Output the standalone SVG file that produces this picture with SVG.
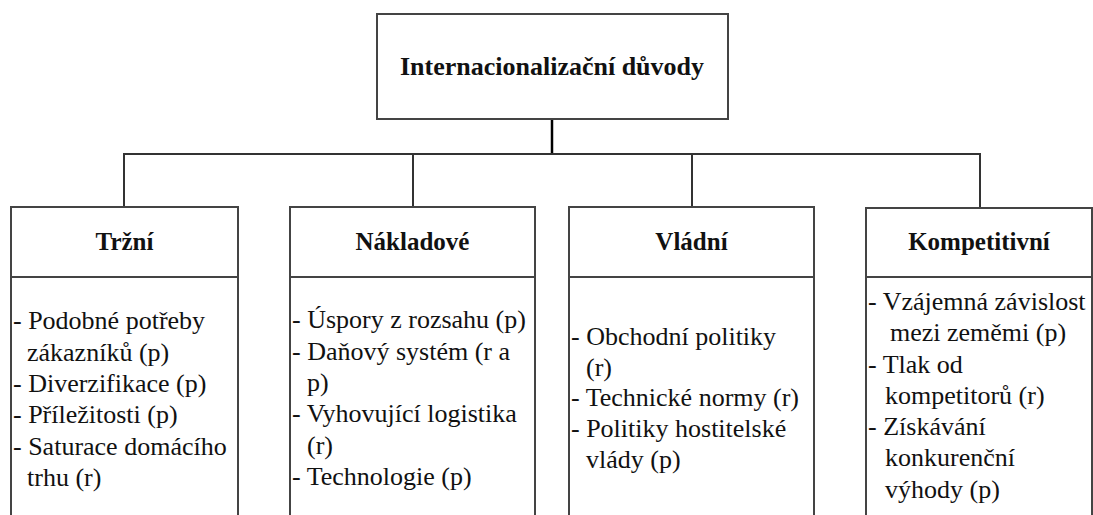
<svg xmlns="http://www.w3.org/2000/svg" width="1093" height="515" viewBox="0 0 1093 515">
  <style>
    .box { fill: #ffffff; stroke: #444444; stroke-width: 2; }
    .div { stroke: #444444; stroke-width: 2; }
    .wire { fill: none; stroke: #333333; stroke-width: 2; }
    .stem { fill: none; stroke: #000000; stroke-width: 2.5; }
  </style>
  <rect width="1093" height="515" fill="#ffffff"/>

  <!-- connectors: stem from the root, bus, and drops to the four categories -->
  <g id="connectors">
    <line class="stem" x1="552" y1="119" x2="552" y2="154"/>
    <line class="wire" x1="123" y1="154" x2="981" y2="154"/>
    <line class="wire" x1="124" y1="154" x2="124" y2="207"/>
    <line class="wire" x1="413" y1="154" x2="413" y2="207"/>
    <line class="wire" x1="692" y1="154" x2="692" y2="207"/>
    <line class="wire" x1="980" y1="154" x2="980" y2="208"/>
  </g>

  <!-- root -->
  <g id="root">
    <rect class="box" x="377" y="14" width="351" height="105"/>
    <text x="552" y="75" font-family="Liberation Serif" font-weight="bold" font-size="26" text-anchor="middle" fill="#111111">Internacionalizační důvody</text>
  </g>

  <!-- market -->
  <g id="trzni">
    <rect class="box" x="11" y="207" width="227" height="340"/>
    <line class="div" x1="11" y1="277" x2="238" y2="277"/>
    <text x="124.5" y="250" font-family="Liberation Serif" font-weight="bold" font-size="25" text-anchor="middle" fill="#111111">Tržní</text>
    <text x="13" y="329" font-family="Liberation Serif" font-size="26" fill="#111111">- Podobné potřeby</text>
    <text x="27" y="361" font-family="Liberation Serif" font-size="26" fill="#111111">zákazníků (p)</text>
    <text x="13" y="392" font-family="Liberation Serif" font-size="26" fill="#111111">- Diverzifikace (p)</text>
    <text x="13" y="423" font-family="Liberation Serif" font-size="26" fill="#111111">- Příležitosti (p)</text>
    <text x="13" y="455" font-family="Liberation Serif" font-size="26" fill="#111111">- Saturace domácího</text>
    <text x="27" y="486" font-family="Liberation Serif" font-size="26" fill="#111111">trhu (r)</text>
  </g>

  <!-- cost -->
  <g id="nakladove">
    <rect class="box" x="290" y="207" width="245" height="340"/>
    <line class="div" x1="290" y1="277" x2="535" y2="277"/>
    <text x="412.5" y="250" font-family="Liberation Serif" font-weight="bold" font-size="25" text-anchor="middle" fill="#111111">Nákladové</text>
    <text x="292" y="328" font-family="Liberation Serif" font-size="26" fill="#111111">- Úspory z rozsahu (p)</text>
    <text x="292" y="360" font-family="Liberation Serif" font-size="26" fill="#111111">- Daňový systém (r a</text>
    <text x="307" y="391" font-family="Liberation Serif" font-size="26" fill="#111111">p)</text>
    <text x="292" y="422" font-family="Liberation Serif" font-size="26" fill="#111111">- Vyhovující logistika</text>
    <text x="307" y="454" font-family="Liberation Serif" font-size="26" fill="#111111">(r)</text>
    <text x="292" y="485" font-family="Liberation Serif" font-size="26" fill="#111111">- Technologie (p)</text>
  </g>

  <!-- government -->
  <g id="vladni">
    <rect class="box" x="569" y="207" width="245" height="340"/>
    <line class="div" x1="569" y1="277" x2="814" y2="277"/>
    <text x="691.5" y="250" font-family="Liberation Serif" font-weight="bold" font-size="25" text-anchor="middle" fill="#111111">Vládní</text>
    <text x="571" y="345" font-family="Liberation Serif" font-size="26" fill="#111111">- Obchodní politiky</text>
    <text x="586" y="376" font-family="Liberation Serif" font-size="26" fill="#111111">(r)</text>
    <text x="571" y="406" font-family="Liberation Serif" font-size="26" fill="#111111">- Technické normy (r)</text>
    <text x="571" y="437" font-family="Liberation Serif" font-size="26" fill="#111111">- Politiky hostitelské</text>
    <text x="586" y="468" font-family="Liberation Serif" font-size="26" fill="#111111">vlády (p)</text>
  </g>

  <!-- competitive -->
  <g id="kompetitivni">
    <rect class="box" x="866" y="208" width="226" height="340"/>
    <line class="div" x1="866" y1="277" x2="1092" y2="277"/>
    <text x="979" y="250" font-family="Liberation Serif" font-weight="bold" font-size="25" text-anchor="middle" fill="#111111">Kompetitivní</text>
    <text x="868" y="310" font-family="Liberation Serif" font-size="26" fill="#111111">- Vzájemná závislost</text>
    <text x="890" y="341" font-family="Liberation Serif" font-size="26" fill="#111111">mezi zeměmi (p)</text>
    <text x="868" y="373" font-family="Liberation Serif" font-size="26" fill="#111111">- Tlak od</text>
    <text x="885" y="404" font-family="Liberation Serif" font-size="26" fill="#111111">kompetitorů (r)</text>
    <text x="868" y="435" font-family="Liberation Serif" font-size="26" fill="#111111">- Získávání</text>
    <text x="885" y="466" font-family="Liberation Serif" font-size="26" fill="#111111">konkurenční</text>
    <text x="885" y="498" font-family="Liberation Serif" font-size="26" fill="#111111">výhody (p)</text>
  </g>
</svg>
